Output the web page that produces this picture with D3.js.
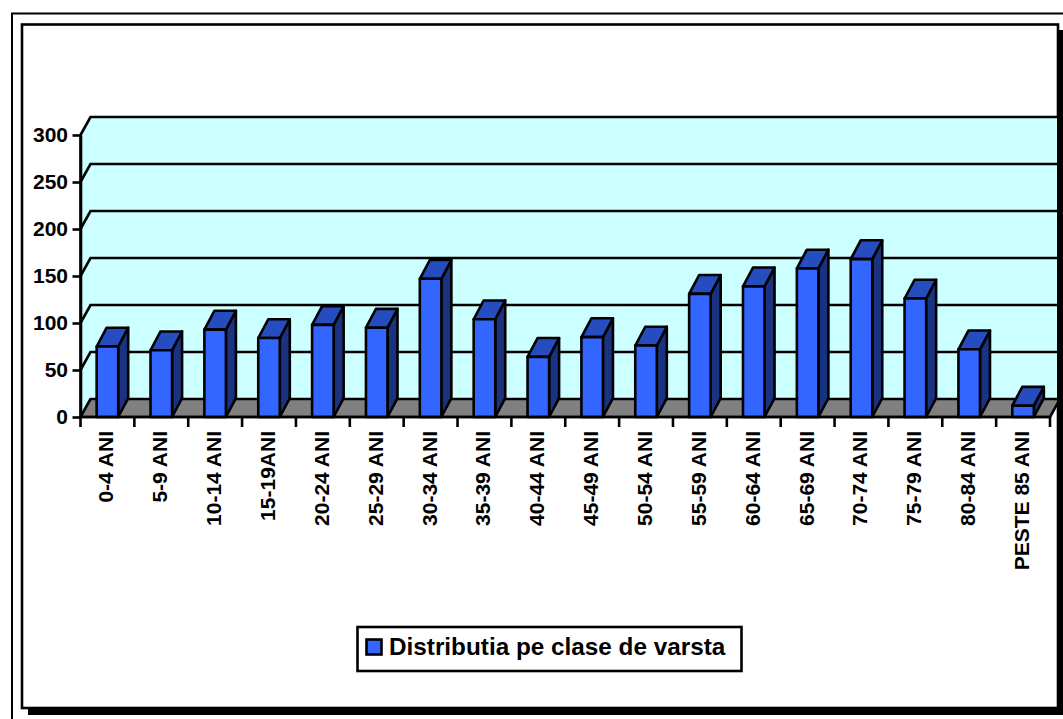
<!DOCTYPE html>
<html>
<head>
<meta charset="utf-8">
<script src="https://cdn.jsdelivr.net/npm/d3@7"></script>
<style>
body { margin: 0; background: #fff; }
svg { display: block; }
text { font-family: "Liberation Sans", Arial, sans-serif; font-weight: bold; fill: #000; }
</style>
</head>
<body>
<div id="chart-area"></div>
<script>
// Chart data
const ageClasses = ["0-4 ANI", "5-9 ANI", "10-14 ANI", "15-19ANI", "20-24 ANI", "25-29 ANI", "30-34 ANI", "35-39 ANI", "40-44 ANI",
    "45-49 ANI", "50-54 ANI", "55-59 ANI", "60-64 ANI", "65-69 ANI", "70-74 ANI", "75-79 ANI", "80-84 ANI", "PESTE 85 ANI"];
const ageCounts = [75, 71, 93, 84, 98, 95, 147, 104, 64, 85, 76, 131, 139, 158, 168, 126, 72, 12];
const yTicks = [0, 50, 100, 150, 200, 250, 300];
const seriesName = "Distributia pe clase de varsta";

// Configure canvas
const svg = d3.select("#chart-area")
    .append("svg")
    .attr("width", 1063)
    .attr("height", 719);

const plot = {left: 80.5, right: 1050, top: 135, bottom: 417};
const depth = {x: 10, y: 18};
const barDepthY = 18.8;
const lineW = 2.6;

// X scale
var xScale = d3.scaleBand()
    .domain(ageClasses)
    .range([plot.left, plot.right])
    .paddingInner(0.6)
    .paddingOuter(0.3);

// Y scale
var yScale = d3.scaleLinear()
    .domain([0, 300])
    .range([plot.bottom, plot.top]);

// Outer frame and chart frame with its shadow
svg.append("rect").attr("x", 12).attr("y", 13.5).attr("width", 1060).attr("height", 720)
    .attr("fill", "#fff").attr("stroke", "#000").attr("stroke-width", 2);
svg.append("rect").attr("x", 28).attr("y", 30).attr("width", 1035).attr("height", 685).attr("fill", "#000");
svg.append("rect").attr("x", 22).attr("y", 24.5).attr("width", 1036).attr("height", 683.5)
    .attr("fill", "#fff").attr("stroke", "#000").attr("stroke-width", 2.6);

var g = svg.append("g");
var clip = svg.append("clipPath").attr("id", "plot-clip");
clip.append("rect").attr("x", 0).attr("y", 0).attr("width", 1057).attr("height", 707);
g.attr("clip-path", "url(#plot-clip)");

// Back wall
const xMin = plot.left, xMax = plot.right;
g.append("path")
    .attr("d", d3.line()([[xMin, yScale(0)], [xMin, yScale(300)], [xMin + depth.x, yScale(300) - depth.y],
        [xMax + depth.x, yScale(300) - depth.y], [xMax + depth.x, yScale(0) - depth.y]]) + "Z")
    .attr("fill", "#ccffff")
    .attr("stroke", "none");

// Gridlines
yTicks.filter(d => d > 0).forEach(d => {
    g.append("path")
        .attr("d", d3.line()([[xMin, yScale(d)], [xMin + depth.x, yScale(d) - depth.y], [xMax + depth.x, yScale(d) - depth.y]]))
        .attr("fill", "none")
        .attr("stroke", "#000")
        .attr("stroke-width", lineW);
});

// Floor
g.append("path")
    .attr("d", d3.line()([[xMin, yScale(0)], [xMin + depth.x, yScale(0) - depth.y], [xMax + depth.x, yScale(0) - depth.y], [xMax, yScale(0)]]) + "Z")
    .attr("fill", "#808080")
    .attr("stroke", "#000")
    .attr("stroke-width", lineW)
    .attr("stroke-linejoin", "round");

// Left wall edge
g.append("line")
    .attr("x1", xMin).attr("x2", xMin)
    .attr("y1", yScale(0)).attr("y2", yScale(300))
    .attr("stroke", "#000").attr("stroke-width", lineW);

// Bars
var bars = g.selectAll("g.bar").data(ageClasses.map((c, i) => ({name: c, value: ageCounts[i]})))
    .enter().append("g").attr("class", "bar");

function barFace(d, part) {
    const x0 = xScale(d.name), x1 = x0 + xScale.bandwidth(), y0 = yScale(d.value), y1 = yScale(0);
    if (part == "top") return [[x0, y0], [x0 + depth.x, y0 - barDepthY], [x1 + depth.x, y0 - barDepthY], [x1, y0]];
    if (part == "side") return [[x1, y0], [x1 + depth.x, y0 - barDepthY], [x1 + depth.x, y1 - barDepthY], [x1, y1]];
    return [[x0, y0], [x1, y0], [x1, y1], [x0, y1]];
}
[["side", "#1a3380"], ["top", "#264dbf"], ["front", "#3366ff"]].forEach(p => {
    bars.append("path")
        .attr("d", d => d3.line()(barFace(d, p[0])) + "Z")
        .attr("fill", p[1])
        .attr("stroke", "#000")
        .attr("stroke-width", lineW)
        .attr("stroke-linejoin", "round");
});

// Y axis
var yAxisCall = d3.axisLeft(yScale).tickValues(yTicks).tickSize(8).tickSizeOuter(0).tickPadding(4.5);
var yAxis = svg.append("g")
    .attr("class", "y axis")
    .attr("transform", "translate(" + plot.left + ",0)")
    .call(yAxisCall);
yAxis.select(".domain").attr("stroke-width", lineW);
yAxis.selectAll("line").attr("stroke-width", lineW);
yAxis.selectAll("text").attr("font-size", "21px").attr("font-family", "Liberation Sans");

// X axis, ticks sit between the categories
svg.append("line")
    .attr("x1", plot.left).attr("x2", plot.right)
    .attr("y1", plot.bottom).attr("y2", plot.bottom)
    .attr("stroke", "#000").attr("stroke-width", lineW);
const step = xScale.step();
d3.range(ageClasses.length + 1).forEach(i => {
    svg.append("line")
        .attr("x1", plot.left + i * step).attr("x2", plot.left + i * step)
        .attr("y1", plot.bottom).attr("y2", plot.bottom + 10)
        .attr("stroke", "#000").attr("stroke-width", lineW);
});
svg.selectAll("text.xlabel").data(ageClasses)
    .enter().append("text")
    .attr("class", "xlabel")
    .attr("font-size", "21px")
    .attr("text-anchor", "end")
    .attr("transform", d => "translate(" + (xScale(d) + xScale.bandwidth() / 2 + 6) + "," + (plot.bottom + 14) + ") rotate(-90)")
    .text(d => d);

// Legend
svg.append("rect").attr("x", 357.5).attr("y", 627).attr("width", 384).attr("height", 44)
    .attr("fill", "#fff").attr("stroke", "#000").attr("stroke-width", lineW);
svg.append("rect").attr("x", 366.5).attr("y", 639.5).attr("width", 15).attr("height", 15)
    .attr("fill", "#3366ff").attr("stroke", "#000").attr("stroke-width", lineW);
svg.append("text").attr("x", 389).attr("y", 655).attr("font-size", "24.3px").text(seriesName);
</script>
</body>
</html>
